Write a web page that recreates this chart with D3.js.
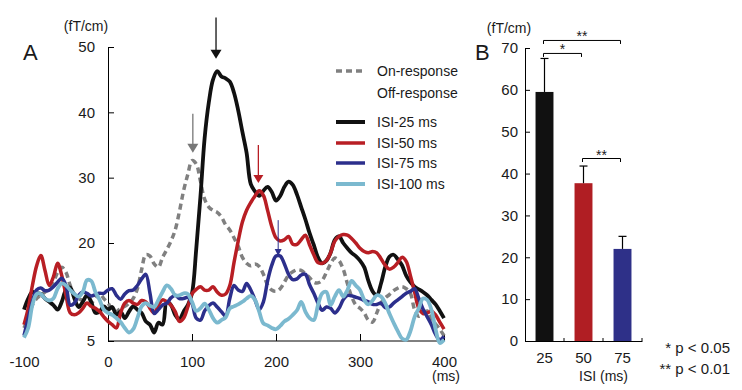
<!DOCTYPE html>
<html><head><meta charset="utf-8">
<script src="https://cdn.jsdelivr.net/npm/d3@7"></script>
<style>
body{margin:0;background:#fff}
svg{display:block;font-family:"Liberation Sans",Arial,sans-serif}
</style>
</head><body>
<svg id="c" width="742" height="390"></svg>
<script>
// ---------- DATA ----------
const timesMs = [-100,-95,-90,-85,-80,-75,-70,-65,-60,-55,-50,-45,-40,-35,-30,-25,-20,-15,-10,-5,
  0,5,10,15,20,25,30,35,40,45,50,55,60,65,70,75,80,85,90,95,
  100,105,110,115,120,125,130,135,140,145,150,155,160,165,170,175,180,185,190,195,
  200,205,210,215,220,225,230,235,240,245,250,255,260,265,270,275,280,285,290,295,
  300,305,310,315,320,325,330,335,340,345,350,355,360,365,370,375,380,385,390,395,400];

const onResponse = [7.0,8.5,10.5,11.5,12,12.5,13,14,15.5,16.3,15.5,13.5,12.2,11.5,11.2,11,10.8,11.7,12.3,11.5,
  10.8,9.8,9.5,10,10.3,10.8,11.5,13,15.9,18.2,18,16.8,16.3,17.8,19,20.3,22,24.8,28,30.5,
  32.6,32.1,29.5,26.7,25.5,25,24.7,24,22.8,22,20.8,19.5,17.8,16.9,16.5,16.8,16.4,15.2,13.6,12.8,
  12.6,13,14,15.1,15.6,15.9,15.8,15.3,14.7,14,13.9,14.3,15.5,16.8,17.7,17.3,16,13.8,11.8,10.5,
  10,9.3,8.2,7.9,9.3,10.8,11.6,12.1,12.7,13.1,13.3,13.0,12.3,9.8,8.8,9.3,9.6,8.4,7.6,6.8,5.8];

const isi25 = [9.8,11.5,12.5,12.3,12.2,11.5,11,10.5,9.8,11,12.8,13.2,11.5,10.2,11,12,11,9.3,9.5,10.3,
  9.8,10.2,9.0,9.5,8.5,9.5,10.3,9.8,9.3,8.0,7.5,6.3,7.8,7.5,11.0,10.5,9.0,8.3,9.5,10.5,
  12.3,19,27,36,41.5,45,46.3,45.5,45.2,44.7,43,40.3,37,33.8,29,27.9,27.2,28,28.6,27.8,
  26.5,27.2,28.6,29.4,28.9,27.4,25.5,23.6,21.5,19.7,17.8,16.9,17.3,18.5,20.5,21,20,19.2,18.5,18,
  17.3,16.3,14.2,12.6,12,13.8,16.3,17.9,18.2,17.5,16.6,15,14,13.3,12.9,12.5,12,11.3,10.6,9.6,8.5];

const isi50 = [7.5,10,13.5,16.5,18.1,15.8,13.5,14.8,16.9,15,12,9.3,9.0,9.3,10,10.8,10.3,10,9.5,8.7,
  8.0,7.5,7.0,9.3,10.8,11.2,10.8,10.6,11.2,11,10,9.3,10.5,11.3,11,10.5,9.5,8.0,8.5,10.2,
  12.2,12.9,13.3,12.8,12.8,13.3,12.5,12,12.2,13.5,17,20.3,23.2,25,26.2,27.2,28,27.3,25,22.5,
  20.8,20.3,20.5,21,19.8,19.8,20.5,21.2,19.7,18.2,17,16.9,17.3,18.5,20.3,21,21.3,21.2,20.7,20,
  19.2,18.7,18.5,18.7,18.5,17.6,16.6,16.0,16.3,17.0,17.8,17.2,15,12.5,10,9.2,9.3,9.6,9.0,7.9,6.8];

const isi75 = [5.8,8.5,11,12.8,13.1,12.7,12.8,13.3,14.0,14.6,13.5,10.5,10.8,12,12.5,12.3,11.9,12.1,12.3,12.3,
  12.8,13,12,11.4,12.2,12.7,12.8,13.5,14.5,15.2,12.3,9.2,9.8,10.5,10.8,11.6,12,11.5,11.5,11.7,
  10.8,8.5,8.2,9.6,10.4,10.8,10.2,9.5,8.8,11.5,13.5,12.8,12.6,13.8,12.8,11.3,9.8,11,14.2,16.6,
  18,18,16.8,15.2,14.4,14.5,15.1,15.2,13.6,12.3,10.8,9.7,10.2,10.0,9.3,10.0,11.3,12,11.9,11.7,
  11.5,11.2,11,10.6,10.6,10.8,10.1,10.2,10.8,11.3,11.8,12.3,12.6,13.0,11.5,9.9,8.7,7.5,6.0,5.2,5.7];

const isi100 = [5.5,7,10.5,12.2,12.2,11.5,11.2,11.5,13,13.8,13.5,12.8,12.2,11.8,12.5,14.3,14.2,12.5,11.3,9.8,
  9.3,9.0,8.5,7.9,7.0,6.3,6.8,8.5,10.3,10.8,10.4,10.2,11.3,12.5,13.5,13.0,12.0,12.0,12.3,12.2,
  11,9.6,10.0,10.7,9.8,8.5,7.8,8.2,8.6,10,10.3,10.6,11,11.5,11.9,11.3,9.5,7.7,7.4,7.0,
  6.8,7.3,8.0,8.4,9.0,9.7,11,9.5,8.5,8.2,10.5,12.3,12.5,10.5,11.8,12.8,11.8,12.8,14.2,13.5,
  12.8,11.3,10.6,11.2,12.0,11.8,10.8,9.2,7.8,6.5,5.4,5.2,6.5,8.7,10,11.5,11.3,9.8,6.8,4.7,5.2];

const legendLabels = ["On-response","Off-response","ISI-25 ms","ISI-50 ms","ISI-75 ms","ISI-100 ms"];
const yTicksA = [5,20,30,40,50];
const xTicksA = [-100,0,100,200,300,400];

// arrows marking peaks (time in ms, tail value, tip value in fT/cm)
const arrowMs   = [128.6, 101, 179, 202.6];
const arrowTail = [54.5, 39.8, 35.0, 23.5];
const arrowTip  = [48.2, 33.8, 29.2, 18.0];

// panel B
const barIsi   = ["25","50","75"];
const barMean  = [59.5, 37.7, 22.0];
const barSem   = [8.0, 4.1, 3.0];
const yTicksB  = [0,10,20,30,40,50,60,70];
const sigFrom  = ["25","25","50"];
const sigTo    = ["50","75","75"];
const sigAt    = [68.7, 71.8, 43.6];
const sigText  = ["*","**","**"];

// ---------- STYLE ----------
const C = {black:"#111111", red:"#b81e24", blue:"#2c2f8c", light:"#7bb9cf", gray:"#808080", text:"#1a1a1a"};
const FONT = "Liberation Sans, Arial, sans-serif";
const svg = d3.select("#c");

// ---------- PANEL A ----------
const xA = d3.scaleLinear().domain([-100,400]).range([24,444]);
const yA = d3.scaleLinear().domain([5,50]).range([341,47]);

const gA = svg.append("g");
const ayA = gA.append("g").attr("transform",`translate(${xA(0)},0)`)
  .call(d3.axisLeft(yA).tickValues(yTicksA).tickSize(-6).tickSizeOuter(0).tickPadding(13).tickFormat(d=>String(d)));
ayA.selectAll("text").attr("font-size",15).attr("fill",C.text).attr("font-family",FONT);
ayA.selectAll("line,path").attr("stroke","#000");

const axA = gA.append("g").attr("transform",`translate(0,${yA(5)})`)
  .call(d3.axisBottom(xA).tickValues(xTicksA).tickSize(-7).tickPadding(15).tickFormat(d=>String(d)));
axA.select(".domain").remove();
axA.selectAll(".tick").filter(d=>d<=0).select("line").remove();
axA.selectAll("line").attr("stroke","#000");
axA.selectAll("text").attr("font-size",15).attr("fill",C.text).attr("font-family",FONT);
gA.append("line").attr("x1",xA(0)).attr("x2",xA(400)).attr("y1",yA(5)).attr("y2",yA(5)).attr("stroke","#000");

gA.append("text").attr("x",86).attr("y",31).attr("text-anchor","middle").attr("font-size",14).attr("fill",C.text).text("(fT/cm)");
gA.append("text").attr("x",446).attr("y",381).attr("text-anchor","middle").attr("font-size",14).attr("fill",C.text).text("(ms)");
gA.append("text").attr("x",23).attr("y",60).attr("font-size",22).attr("fill",C.text).text("A");

const line = d3.line().x((d,i)=>xA(timesMs[i])).y(d=>yA(d)).curve(d3.curveCatmullRom.alpha(0.5));
const traces = [
  {v:onResponse, c:C.gray, w:3.5, dash:"6,4"},
  {v:isi25, c:C.black, w:3.8},
  {v:isi50, c:C.red, w:3.5},
  {v:isi75, c:C.blue, w:3.5},
  {v:isi100, c:C.light, w:3.8}
];
gA.selectAll("path.trace").data(traces).join("path").attr("class","trace")
  .attr("d",d=>line(d.v)).attr("fill","none").attr("stroke",d=>d.c)
  .attr("stroke-width",d=>d.w).attr("stroke-dasharray",d=>d.dash||null)
  .attr("stroke-linejoin","round");

const arrowStyle = [
  {c:"#111", w:1.3, hw:11, hh:9},
  {c:"#777", w:1.3, hw:11, hh:9},
  {c:"#b81e24", w:1.3, hw:10, hh:8},
  {c:"#2c2f8c", w:1, hw:7, hh:7}
];
arrowMs.forEach((m,i)=>{
  const s = arrowStyle[i], x = xA(m), y0 = yA(arrowTail[i]), y1 = yA(arrowTip[i]);
  gA.append("line").attr("x1",x).attr("x2",x).attr("y1",y0).attr("y2",y1-s.hh+1)
    .attr("stroke",s.c).attr("stroke-width",s.w);
  gA.append("path").attr("d",`M${x-s.hw/2},${y1-s.hh}L${x+s.hw/2},${y1-s.hh}L${x},${y1}Z`).attr("fill",s.c);
});

const legY = [71,93,122,143,163,184];
const legStyle = [
  {c:C.gray, w:3.5, dash:"6,4"}, null,
  {c:C.black, w:4}, {c:C.red, w:3.5}, {c:C.blue, w:3.5}, {c:C.light, w:4}
];
legendLabels.forEach((t,i)=>{
  const s = legStyle[i];
  if(s) gA.append("line").attr("x1",336).attr("x2",365).attr("y1",legY[i]).attr("y2",legY[i])
    .attr("stroke",s.c).attr("stroke-width",s.w).attr("stroke-dasharray",s.dash||null);
  gA.append("text").attr("x",377).attr("y",legY[i]+5).attr("font-size",14).attr("fill",C.text).text(t);
});

// ---------- PANEL B ----------
const xB = d3.scaleBand().domain(barIsi).range([525,642]).paddingInner(0.54).paddingOuter(0.27);
const yB = d3.scaleLinear().domain([0,70]).range([341,48]);
const barColors = [C.black, "#b01e23", "#2e3088"];
const gB = svg.append("g");

gB.selectAll("rect.bar").data(barMean).join("rect").attr("class","bar")
  .attr("x",(d,i)=>xB(barIsi[i])).attr("width",xB.bandwidth())
  .attr("y",d=>yB(d)).attr("height",d=>yB(0)-yB(d)).attr("fill",(d,i)=>barColors[i]);
barMean.forEach((m,i)=>{
  const cx = xB(barIsi[i]) + xB.bandwidth()/2;
  gB.append("line").attr("x1",cx).attr("x2",cx).attr("y1",yB(m)).attr("y2",yB(m+barSem[i])).attr("stroke","#000").attr("stroke-width",1.2);
  gB.append("line").attr("x1",cx-4).attr("x2",cx+4).attr("y1",yB(m+barSem[i])).attr("y2",yB(m+barSem[i])).attr("stroke","#000").attr("stroke-width",1.2);
});

const ayB = gB.append("g").attr("transform",`translate(525,0)`)
  .call(d3.axisLeft(yB).tickValues(yTicksB).tickSize(-5).tickSizeOuter(0).tickPadding(7).tickFormat(d=>String(d)));
ayB.selectAll("text").attr("font-size",15).attr("fill",C.text).attr("font-family",FONT);
ayB.selectAll("line,path").attr("stroke","#000");

const axB = gB.append("g").attr("transform",`translate(0,${yB(0)})`)
  .call(d3.axisBottom(xB).tickSize(0).tickPadding(11));
axB.select(".domain").attr("stroke","#000");
axB.selectAll("text").attr("font-size",15).attr("fill",C.text).attr("font-family",FONT);
barIsi.forEach(k=>{
  const bx = xB(k) + xB.bandwidth()/2 + xB.step()/2;
  gB.append("line").attr("x1",bx).attr("x2",bx).attr("y1",yB(0)).attr("y2",yB(0)-3).attr("stroke","#000");
});

gB.append("text").attr("x",509).attr("y",33).attr("text-anchor","middle").attr("font-size",14).attr("fill",C.text).text("(fT/cm)");
gB.append("text").attr("x",475).attr("y",60).attr("font-size",22).attr("fill",C.text).text("B");
gB.append("text").attr("x",603.5).attr("y",381).attr("text-anchor","middle").attr("font-size",14).attr("fill",C.text).text("ISI (ms)");
gB.append("text").attr("x",730).attr("y",353).attr("text-anchor","end").attr("font-size",15).attr("fill",C.text).text("* p < 0.05");
gB.append("text").attr("x",730).attr("y",374).attr("text-anchor","end").attr("font-size",15).attr("fill",C.text).text("** p < 0.01");

sigAt.forEach((v,i)=>{
  const x1 = xB(sigFrom[i]) + xB.bandwidth()/2 - 1, x2 = xB(sigTo[i]) + xB.bandwidth()/2 - 2, y = yB(v);
  gB.append("path").attr("d",`M${x1},${y+3.5}V${y}H${x2}V${y+3.5}`).attr("fill","none").attr("stroke","#000").attr("stroke-width",1);
  gB.append("text").attr("x",(x1+x2)/2).attr("y",y+1).attr("text-anchor","middle").attr("font-size",14).attr("fill",C.text).text(sigText[i]);
});
</script>
</body></html>
